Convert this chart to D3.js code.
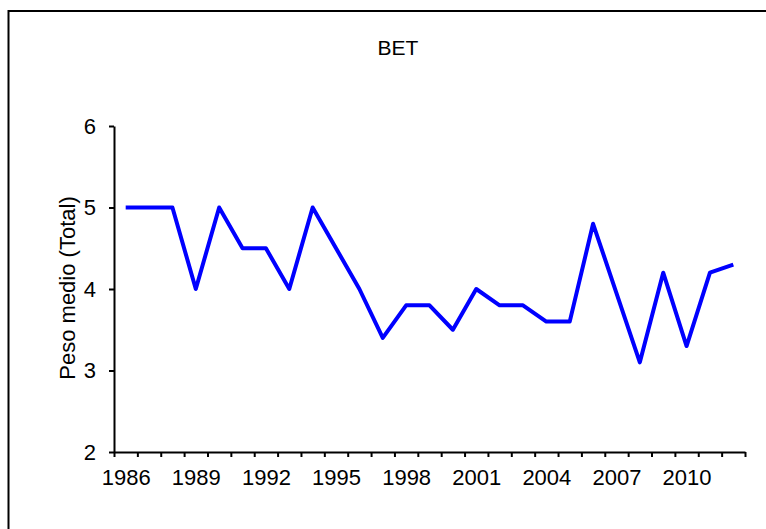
<!DOCTYPE html>
<html>
<head>
<meta charset="utf-8">
<script src="https://cdn.jsdelivr.net/npm/d3@7"></script>
<style>
  html, body { margin: 0; padding: 0; background: #fff; }
  svg { display: block; font-family: Arial, "Liberation Sans", sans-serif; }
</style>
</head>
<body>
<svg id="chart" width="766" height="529"></svg>
<script>
const years = [1986,1987,1988,1989,1990,1991,1992,1993,1994,1995,1996,1997,1998,1999,2000,2001,2002,2003,2004,2005,2006,2007,2008,2009,2010,2011,2012];
const values = [5,5,5,4,5,4.5,4.5,4,5,4.5,4,3.4,3.8,3.8,3.5,4,3.8,3.8,3.6,3.6,4.8,3.95,3.1,4.2,3.3,4.2,4.3];
const xTickLabels = [1986,1989,1992,1995,1998,2001,2004,2007,2010];
const yTicks = [2,3,4,5,6];
const title = "BET";
const yTitle = "Peso medio (Total)";

const svg = d3.select("#chart");

// outer frame
svg.append("rect")
  .attr("x", 8.5).attr("y", 11)
  .attr("width", 900).attr("height", 700)
  .attr("fill", "none").attr("stroke", "#000").attr("stroke-width", 2);

const x = d3.scaleLinear()
  .domain([years[0] - 0.5, years[years.length - 1] + 0.5])
  .range([114, 745]);
const y = d3.scaleLinear().domain([2, 6]).range([452, 126]);

// x axis: ticks between categories
const boundaries = years.map(d => d - 0.5).concat([years[years.length - 1] + 0.5]);
const gx = svg.append("g").attr("transform", "translate(0,452)");
gx.call(d3.axisBottom(x).tickValues(boundaries).tickSize(5).tickSizeOuter(0).tickFormat(""));
gx.select(".domain").attr("stroke-width", 2);
gx.selectAll(".tick line").attr("stroke-width", 2);

const gxl = svg.append("g").attr("transform", "translate(0,452)");
gxl.call(d3.axisBottom(x).tickValues(xTickLabels).tickSize(0).tickPadding(17).tickFormat(d3.format("d")));
gxl.select(".domain").remove();
gxl.selectAll("text").attr("font-size", 22).attr("fill", "#000").style("font-family", "Arial, 'Liberation Sans', sans-serif");

// y axis
const gy = svg.append("g").attr("transform", "translate(114,0)");
gy.call(d3.axisLeft(y).tickValues(yTicks).tickSize(5).tickSizeOuter(0).tickPadding(13).tickFormat(d3.format("d")));
gy.select(".domain").attr("stroke-width", 2);
gy.selectAll(".tick line").attr("stroke-width", 2);
gy.selectAll("text").attr("font-size", 22).attr("fill", "#000").style("font-family", "Arial, 'Liberation Sans', sans-serif");

// line
const line = d3.line().x((d, i) => x(years[i])).y(d => y(d));
svg.append("path")
  .datum(values)
  .attr("d", line)
  .attr("fill", "none")
  .attr("stroke", "#0000FF")
  .attr("stroke-width", 4)
  .attr("stroke-linejoin", "round");

// title
svg.append("text")
  .attr("x", 398).attr("y", 55)
  .attr("text-anchor", "middle")
  .attr("font-size", 21)
  .text(title);

// y title
svg.append("text")
  .attr("transform", "translate(75,288) rotate(-90)")
  .attr("text-anchor", "middle")
  .attr("font-size", 22)
  .text(yTitle);
</script>
</body>
</html>
